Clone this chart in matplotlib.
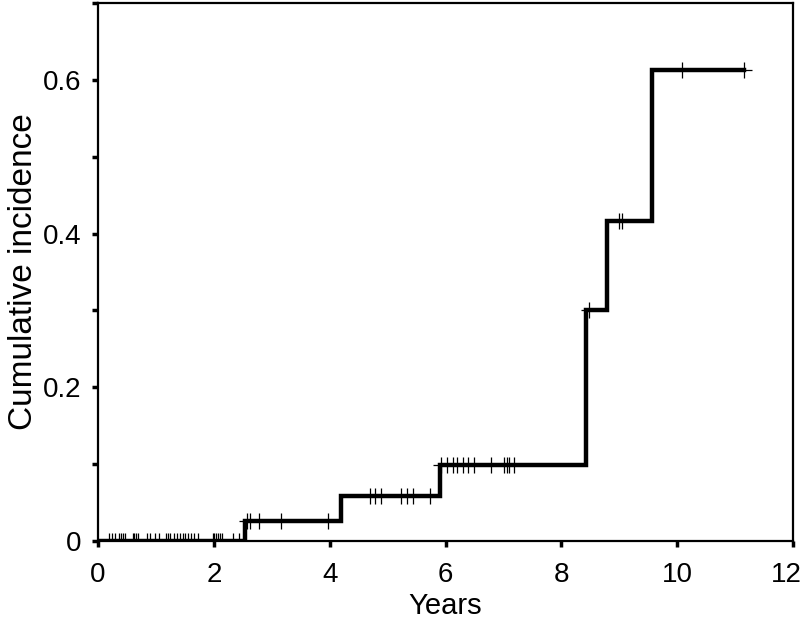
import numpy as np
import matplotlib
matplotlib.use("Agg")
import matplotlib.pyplot as plt
from matplotlib.transforms import ScaledTranslation

# Step function: event times and cumulative incidence after each event
event_times = [2.53, 4.20, 5.91, 8.43, 8.78, 9.56]
event_levels = [0.026, 0.058, 0.099, 0.300, 0.417, 0.613]
end_time = 11.16

# Censoring times
censor_times = [0.19, 0.25, 0.30, 0.37, 0.40, 0.43, 0.46, 0.60, 0.63, 0.66, 0.69,
                0.84, 0.89, 0.99, 1.05, 1.17, 1.20, 1.24, 1.32, 1.37, 1.41, 1.46,
                1.50, 1.55, 1.60, 1.65, 1.72, 1.98, 2.01, 2.04, 2.07, 2.10, 2.14,
                2.33, 2.43,
                2.58, 2.62, 2.78, 3.16, 3.97,
                4.70, 4.79, 4.88, 5.24, 5.33, 5.44, 5.73,
                5.93, 6.03, 6.13, 6.20, 6.30, 6.39, 6.49, 6.79, 7.01, 7.06, 7.10, 7.19,
                8.47, 9.00, 9.05, 10.08, 11.16]

x_ticks = [0, 2, 4, 6, 8, 10, 12]
y_ticks = [0, 0.2, 0.4, 0.6]
y_ticklabels = ["0", "0.2", "0.4", "0.6"]
y_minor = [0.1, 0.3, 0.5, 0.7]

plt.rcParams['font.family'] = ['Liberation Sans', 'DejaVu Sans']

fig = plt.figure(figsize=(8.05, 6.21), dpi=100)
ax = fig.add_axes([98/805, 80/621, (793-98)/805, (541-3)/621])

xs = np.array([0.0] + event_times + [end_time])
ys = np.array([0.0] + event_levels + [event_levels[-1]])
ax.step(xs, ys, where='post', color='black', lw=3.2, solid_joinstyle='miter')

ct = np.array(censor_times)
idx = np.searchsorted(np.array(event_times), ct, side='right')
levels_all = np.array([0.0] + event_levels)
cy = levels_all[idx]
ax.plot(ct, cy, linestyle='none', marker='+', color='black', markersize=12, markeredgewidth=0.9)

ax.set_xlim(0, 12)
ax.set_ylim(0, 0.7)
ax.set_xticks(x_ticks)
ax.set_xticklabels([str(v) for v in x_ticks])
ax.set_yticks(y_ticks)
ax.set_yticklabels(y_ticklabels)
ax.set_yticks(y_minor, minor=True)

for s in ax.spines.values():
    s.set_linewidth(1.6)
ax.tick_params(axis='both', which='both', direction='out', length=4, width=2.5, labelsize=20)
ax.tick_params(axis='x', pad=11)
ax.tick_params(axis='y', pad=8)

# keep the last x tick label inside the figure
last = ax.get_xticklabels()[-1]
last.set_transform(last.get_transform() + ScaledTranslation(-7/100, 0, fig.dpi_scale_trans))

ax.set_xlabel('Years', fontsize=21, labelpad=3)
ax.set_ylabel('Cumulative incidence', fontsize=24, labelpad=3)

fig.savefig('out.png', dpi=100)
